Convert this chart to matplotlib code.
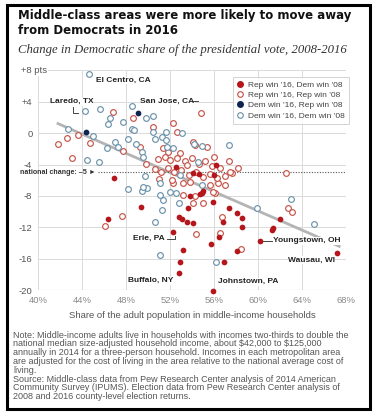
"""
Middle-class share vs. change in Democratic vote share, 2008-2016.
"""

import matplotlib
matplotlib.use("Agg")
import matplotlib.pyplot as plt
from matplotlib.lines import Line2D
from matplotlib.patches import Rectangle

# Rep win '16, Dem win '08 (filled red)
rep_flip_x = [46.91, 49.34, 46.39, 52.52, 56.18, 54.12, 54.66, 56.03, 54.88, 55.0,
              53.82, 55.94, 53.66, 57.39, 58.06, 58.52, 58.52, 56.85, 52.85, 53.06,
              53.52, 54.12, 52.3, 56.48, 55.7, 58.06, 53.21, 52.91, 56.91, 52.85,
              55.94, 60.18, 62.0, 61.25, 61.35, 67.15, 54.7]
rep_flip_y = [-5.75, -9.45, -10.98, -4.35, -4.05, -5.04, -5.2, -5.33, -7.66, -7.4,
              -8.01, -8.73, -9.58, -9.58, -10.21, -10.85, -11.92, -11.29, -10.65, -10.98,
              -11.29, -11.49, -12.56, -13.28, -14.13, -14.98, -14.9, -16.46, -16.39, -17.87,
              -20.09, -13.71, -10.98, -12.34, -12.13, -15.24, -7.8]

# Rep win '16, Rep win '08 (open red)
rep_hold_x = [46.85, 48.66, 43.66, 42.61, 41.85, 44.73, 47.75, 49.27, 43.06, 47.61,
              46.09, 54.79, 52.3, 50.43, 52.61, 54.12, 54.27, 55.34, 52.91, 51.85,
              51.4, 56.03, 57.39, 58.2, 57.6, 62.52, 62.75, 63.06, 56.7, 54.36,
              56.55, 58.45, 54.12, 55.03, 53.21, 54.27, 56.09, 55.94, 52.3, 53.21,
              53.82, 55.64, 56.39, 57.0, 57.45, 50.9, 51.5, 52.0, 52.6, 53.4,
              54.0, 54.6, 55.2, 55.8, 56.5, 50.6, 51.2, 51.8, 52.4, 53.0,
              53.7, 54.4, 55.0, 55.6, 56.3, 57.0, 51.0, 52.2, 53.5, 49.8]
rep_hold_y = [2.67, 1.9, -0.23, -0.65, -1.38, -1.29, -2.23, -1.8, -3.12, -10.56,
              -11.83, 2.54, 1.27, 0.83, 0.19, -1.08, -1.5, -1.72, -2.48, -2.36,
              -1.92, -3.07, -3.51, -4.47, -5.04, -5.11, -9.58, -10.0, -10.73, -12.85,
              -12.69, -14.81, -8.94, -8.94, -7.88, -8.01, -7.66, -7.46, -6.39, -6.39,
              -6.18, -6.6, -6.39, -6.6, -4.91, -3.3, -3.0, -3.4, -3.1, -3.6,
              -3.2, -3.9, -3.5, -4.2, -4.4, -4.6, -4.9, -4.5, -5.0, -4.7,
              -5.3, -4.9, -5.6, -5.2, -5.7, -5.4, -5.8, -6.0, -4.1, -3.9]

# Dem win '16, Rep win '08 (filled navy)
dem_flip_x = [44.34, 49.12]
dem_flip_y = [0.19, 2.54]

# Dem win '16, Dem win '08 (open blue)
dem_hold_x = [44.66, 44.27, 45.64, 46.55, 47.75, 46.39, 48.52, 48.52, 48.7, 42.75,
              44.97, 46.3, 47.0, 47.3, 48.15, 48.91, 44.48, 45.55, 48.15, 49.88,
              49.45, 49.5, 49.73, 51.25, 50.64, 51.09, 51.36, 51.09, 52.0, 52.52,
              52.85, 54.88, 51.09, 56.18, 59.88, 62.97, 65.09, 50.43, 49.8, 50.48,
              51.64, 53.06, 50.64, 51.25, 51.64, 54.2, 54.88, 57.39, 51.7, 52.3,
              49.43, 49.57, 54.57, 52.91]
dem_hold_y = [7.52, 2.87, 3.09, 1.98, 1.39, 1.14, 3.51, 0.54, 0.35, 0.5,
              -0.35, -1.85, -1.08, -1.8, -0.78, -1.38, -3.42, -3.71, -7.15, -7.03,
              -7.33, -6.82, -5.46, -9.79, -11.36, -6.31, -8.52, -7.88, -7.46, -7.66,
              -8.94, -6.6, -15.53, -16.39, -9.58, -8.43, -11.58, 2.2, 1.9, 0.19,
              0.19, 0.07, -0.78, -0.52, -0.86, -1.38, -1.63, -1.5, -1.8, -1.92,
              -2.36, -3.0, -3.63, -5.33]

trend_x = [41.7, 67.5]
trend_y = [1.3, -14.5]
national_change = -5

x_ticks = [40, 44, 48, 52, 56, 60, 64, 68]
x_labels = ["40%", "44%", "48%", "52%", "56%", "60%", "64%", "68%"]
y_ticks = [8, 4, 0, -4, -8, -12, -16, -20]
y_labels = ["", "+4", "0", "-4", "-8", "-12", "-16", "-20"]

legend_labels = ["Rep win '16, Dem win '08", "Rep win '16, Rep win '08",
                 "Dem win '16, Rep win '08", "Dem win '16, Dem win '08"]

# label text, x, y, horizontal alignment
city_labels = [
    ("El Centro, CA", 45.27, 6.72, "left"),
    ("Laredo, TX", 41.09, 4.02, "left"),
    ("San Jose, CA", 49.27, 4.11, "left"),
    ("Erie, PA", 51.55, -13.37, "right"),
    ("Buffalo, NY", 52.27, -18.81, "right"),
    ("Johnstown, PA", 56.36, -18.94, "left"),
    ("Youngstown, OH", 61.36, -13.71, "left"),
    ("Wausau, WI", 62.73, -16.17, "left"),
]

note_lines = [
    "Note: Middle-income adults live in households with incomes two-thirds to double the",
    "national median size-adjusted household income, about \\$42,000 to \\$125,000",
    "annually in 2014 for a three-person household. Incomes in each metropolitan area",
    "are adjusted for the cost of living in the area relative to the national average cost of",
    "living.",
    "Source: Middle-class data from Pew Research Center analysis of 2014 American",
    "Community Survey (IPUMS). Election data from Pew Research Center analysis of",
    "2008 and 2016 county-level election returns.",
]

RED = "#b5161c"
RED_OPEN = "#c65449"
NAVY = "#0c2551"
BLUE_OPEN = "#6c93ab"
SANS = ["Liberation Sans", "DejaVu Sans"]

plt.rcParams["font.family"] = SANS

fig = plt.figure(figsize=(3.78, 4.18), dpi=100)
ax = fig.add_axes([38 / 378, 1 - 290 / 418, 308 / 378, 219.5 / 418])

ax.set_xlim(40, 68)
ax.set_ylim(-20, 8)
for s in ax.spines.values():
    s.set_visible(False)
ax.set_xticks(x_ticks)
ax.set_xticklabels(x_labels)
ax.set_yticks(y_ticks)
ax.set_yticklabels(y_labels)
ax.tick_params(length=0, labelsize=6.8)
ax.tick_params(axis="x", colors="#8a8a8a", pad=4)
ax.tick_params(axis="y", colors="#555555", pad=4)
ax.grid(True, color="#dadada", lw=0.7, zorder=0)
ax.set_axisbelow(True)
ax.axhline(-20, color="#b5b5b5", lw=0.8, zorder=1)
ax.set_xlabel("Share of the adult population in middle-income households",
              fontsize=6.8, color="#555555", labelpad=5)

ax.text(38.45, 8, "+8 pts", ha="left", va="center", fontsize=6.8, color="#555555",
        bbox=dict(fc="white", ec="none", pad=0.8), clip_on=False, zorder=2)

ax.plot(trend_x, trend_y, color="#b4b4b4", lw=2.0, solid_capstyle="butt", zorder=2)
ax.plot([45.45, 68], [national_change] * 2, color="#555555", lw=0.8,
        ls=(0, (1, 1.4)), zorder=2, clip_on=False)
ax.text(45.25, national_change, "national change: \u20135 \u25ba", ha="right",
        va="center", fontsize=5.1, fontweight="bold", color="#333333", clip_on=False)

kw = dict(s=17, zorder=3, clip_on=False)
ax.scatter(rep_hold_x, rep_hold_y, facecolor="white", edgecolor=RED_OPEN, lw=0.85, **kw)
ax.scatter(dem_hold_x, dem_hold_y, facecolor="white", edgecolor=BLUE_OPEN, lw=0.85, **kw)
ax.scatter(rep_flip_x, rep_flip_y, color=RED, lw=0, **kw)
ax.scatter(dem_flip_x, dem_flip_y, color=NAVY, lw=0, **kw)

for txt, x, y, ha in city_labels:
    ax.text(x, y, txt, ha=ha, va="center", fontsize=6, fontweight="bold",
            color="#222222", clip_on=False, zorder=4,
            bbox=dict(fc="white", ec="none", pad=0.3))

# leader lines
ln = dict(color="#444444", lw=0.7, zorder=4, clip_on=False)
ax.plot([43.21, 43.21, 43.66], [3.38, 2.62, 2.62], **ln)
ax.plot([54.09, 54.55], [4.11, 4.11], **ln)
ax.plot([51.7, 52.45, 52.45], [-13.45, -13.45, -13.05], **ln)
ax.plot([60.45, 61.3], [-13.71, -13.71], **ln)

handles = [
    Line2D([], [], ls="", marker="o", ms=4, mfc=RED, mec=RED),
    Line2D([], [], ls="", marker="o", ms=4, mfc="white", mec=RED_OPEN, mew=0.85),
    Line2D([], [], ls="", marker="o", ms=4, mfc=NAVY, mec=NAVY),
    Line2D([], [], ls="", marker="o", ms=4, mfc="white", mec=BLUE_OPEN, mew=0.85),
]
leg = ax.legend(handles, legend_labels, loc="upper left",
                bbox_to_anchor=(233 / 378, 1 - 77 / 418), bbox_transform=fig.transFigure,
                fontsize=6, frameon=True, fancybox=False, shadow=False,
                handlelength=0.7, handletextpad=0.6, labelspacing=0.28,
                borderpad=0.5, borderaxespad=0)
leg.get_frame().set_edgecolor("#c8c8c8")
leg.get_frame().set_linewidth(0.7)
for t in leg.get_texts():
    t.set_color("#444444")
leg.set_zorder(5)

title_font = ["DejaVu Sans"]
fig.text(18 / 378, 1 - 15 / 418, "Middle-class areas were more likely to move away",
         fontsize=8.45, fontweight="bold", family=title_font, color="#111111", va="center")
fig.text(18 / 378, 1 - 30 / 418, "from Democrats in 2016",
         fontsize=8.45, fontweight="bold", family=title_font, color="#111111", va="center")
fig.text(18 / 378, 1 - 50 / 418,
         "Change in Democratic share of the presidential vote, 2008-2016",
         fontsize=9.2, style="italic", family=["Liberation Serif", "DejaVu Serif"],
         color="#333333", va="center")

for i, line in enumerate(note_lines):
    fig.text(13 / 378, 1 - (335 + i * 8.8) / 418, line, fontsize=6.5,
             color="#555555", va="center", ha="left")

fig.patches.append(Rectangle((7 / 378, 9 / 418), 363 / 378, 404 / 418,
                             transform=fig.transFigure, fill=False,
                             ec="black", lw=2.2))

fig.savefig("out.png", dpi=100)
